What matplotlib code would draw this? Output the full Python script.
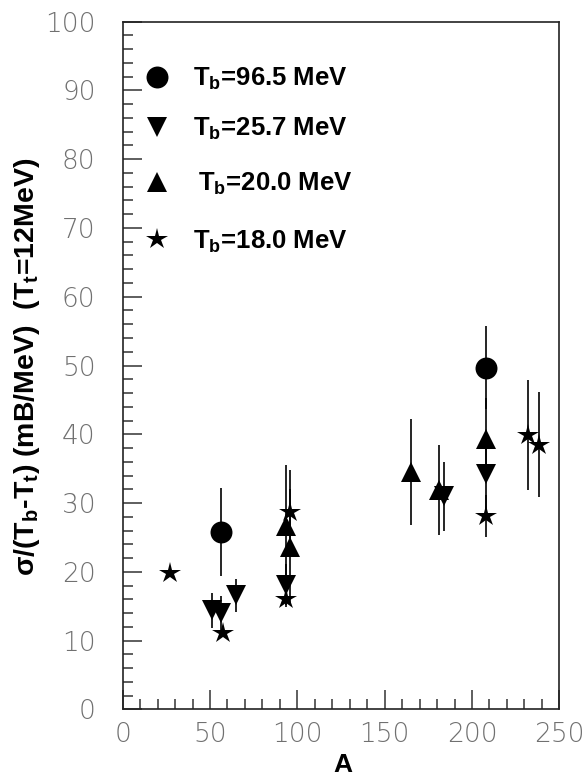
import matplotlib
matplotlib.use('Agg')
import matplotlib.pyplot as plt
from matplotlib.ticker import MultipleLocator

plt.rcParams['mathtext.fontset'] = 'custom'
plt.rcParams['mathtext.rm'] = 'Liberation Sans:bold'
plt.rcParams['mathtext.it'] = 'Liberation Sans:bold'
plt.rcParams['mathtext.bf'] = 'Liberation Sans:bold'

# beam energy 96.5 MeV
a_965 = [56.1, 208.0]
s_965 = [25.8, 49.7]
e_965 = [6.4, 6.0]

# beam energy 25.7 MeV
a_257 = [51.0, 56.1, 64.7, 93.3, 184.0, 208.0]
s_257 = [14.4, 14.0, 16.6, 18.1, 31.0, 34.2]
e_257 = [2.5, 2.5, 2.4, 3.0, 5.0, 5.0]

# beam energy 20.0 MeV
a_200 = [93.3, 95.8, 165.3, 181.1, 208.0]
s_200 = [26.6, 23.6, 34.5, 31.9, 39.3]
e_200 = [9.0, 8.5, 7.7, 6.6, 6.0]

# beam energy 18.0 MeV
a_180 = [27.1, 57.6, 93.3, 95.8, 208.0, 232.1, 238.2]
s_180 = [19.8, 11.05, 16.1, 28.7, 28.1, 39.9, 38.5]
e_180 = [0.0, 0.0, 1.2, 6.1, 3.0, 8.0, 7.6]

labels = [r'T$_b$=96.5 MeV', r'T$_b$=25.7 MeV', r'T$_b$=20.0 MeV', r'T$_b$=18.0 MeV']

fig = plt.figure(figsize=(5.85, 7.80), dpi=100)
ax = fig.add_axes([0.2097, 0.0906, 0.7464, 0.8816])

series = [
    (a_965, s_965, e_965, 'o', 15.8),
    (a_257, s_257, e_257, 'v', 15.0),
    (a_200, s_200, e_200, '^', 15.0),
    (a_180, s_180, e_180, '*', 16.0),
]
for a, s, e, m, ms in series:
    ax.errorbar(a, s, yerr=e, fmt=m, color='k', ms=ms, mew=0,
                elinewidth=1.2, capsize=0)

# hand-placed key in the upper left corner
key_rows = [0.9196, 0.8473, 0.7673, 0.6835]
key_text_x = [0.160, 0.160, 0.172, 0.160]
for (a, s, e, m, ms), yy, tx, lab in zip(series, key_rows, key_text_x, labels):
    ax.plot([0.0779], [yy], m, color='k', ms=ms, mew=0,
            transform=ax.transAxes, clip_on=False)
    ax.text(tx, yy - 0.0131, lab, transform=ax.transAxes, fontsize=18.5,
            fontweight='bold', family='Liberation Sans', va='baseline', ha='left')

ax.set_xlim(0, 250)
ax.set_ylim(0, 100)
ax.xaxis.set_major_locator(MultipleLocator(50))
ax.xaxis.set_minor_locator(MultipleLocator(10))
ax.yaxis.set_major_locator(MultipleLocator(10))
ax.yaxis.set_minor_locator(MultipleLocator(2))
ax.tick_params(which='both', direction='in', top=False, right=False,
               color='#333333', width=1.1)
ax.tick_params(which='major', length=14)
ax.tick_params(which='minor', length=7.3)
ax.tick_params(axis='y', which='major', pad=19.5)
ax.tick_params(axis='x', which='major', pad=9.0)
for lab in ax.get_xticklabels() + ax.get_yticklabels():
    lab.set_fontsize(19)
    lab.set_family('DejaVu Sans')
    lab.set_fontweight('light')
    lab.set_color('#707070')
for sp in ax.spines.values():
    sp.set_linewidth(1.2)
    sp.set_color('#222222')

fig.text(0.047, 0.5295, r'σ/(T$_b$-T$_t$) (mB/MeV)  (T$_t$=12MeV)', rotation=90,
         fontsize=20.5, fontweight='bold', family='Liberation Sans',
         ha='center', va='center')
fig.text(0.586, 0.019, 'A', fontsize=19, fontweight='bold',
         family='Liberation Sans', ha='center', va='center')

fig.savefig('out.png', dpi=100)
